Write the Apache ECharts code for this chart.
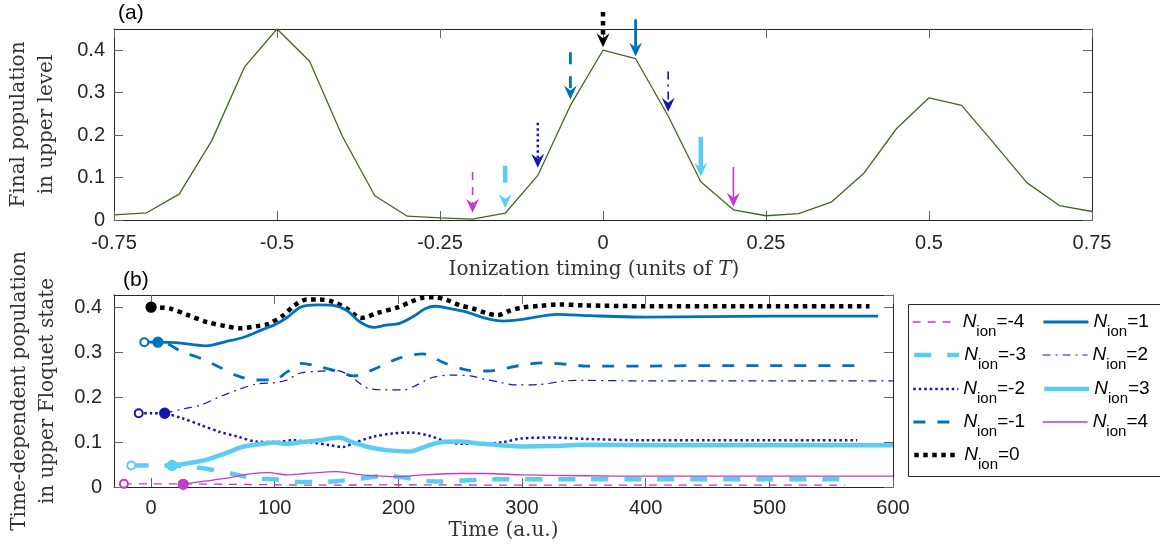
<!DOCTYPE html>
<html>
<head>
<meta charset="utf-8">
<script src="https://cdn.jsdelivr.net/npm/echarts@6/dist/echarts.min.js"></script>
<style>
  html, body { margin: 0; padding: 0; background: #fff; }
  #chart { width: 1160px; height: 550px; }
</style>
</head>
<body>
<div id="chart"></div>
<script>
// (a) final population in upper level vs ionization timing (units of T)
const timing = [-0.75, -0.7, -0.65, -0.6, -0.55, -0.5, -0.45, -0.4, -0.35, -0.3, -0.25,
  -0.2, -0.15, -0.1, -0.05, 0, 0.05, 0.1, 0.15, 0.2, 0.25, 0.3, 0.35, 0.4, 0.45, 0.5,
  0.55, 0.6, 0.65, 0.7, 0.75];
const finalPop = [0.012, 0.017, 0.061, 0.187, 0.36, 0.45, 0.374, 0.198, 0.057, 0.009, 0.005,
  0.002, 0.016, 0.105, 0.27, 0.40, 0.38, 0.245, 0.09, 0.024, 0.01, 0.015, 0.042, 0.11,
  0.215, 0.288, 0.27, 0.18, 0.088, 0.034, 0.02];

// arrows in (a), one per N_ion
const nIon = [-4, -3, -2, -1, 0, 1, 2, 3, 4];
const arrowX = [-0.2, -0.15, -0.1, -0.05, 0, 0.05, 0.1, 0.15, 0.2];
const arrowTail = [0.113, 0.128, 0.229, 0.395, 0.49, 0.473, 0.35, 0.196, 0.125];
const arrowTip = [0.017, 0.028, 0.123, 0.284, 0.407, 0.385, 0.255, 0.102, 0.031];

// (b) time-dependent population in upper Floquet state
const tNeg4 = [-22, 0, 25, 60, 100, 130, 200, 300, 400, 500, 561];
const pNeg4 = [0.007, 0.007, 0.007, 0.006, 0.005, 0.004, 0.005, 0.004, 0.004, 0.004, 0.004];
const tNeg3 = [-16, 0, 17, 35, 50, 70, 85, 100, 115, 130, 150, 170, 190, 210, 230, 250, 270, 300, 350, 400, 450, 500, 559];
const pNeg3 = [0.048, 0.048, 0.048, 0.044, 0.038, 0.027, 0.019, 0.017, 0.012, 0.011, 0.013, 0.019, 0.025, 0.019, 0.012, 0.014, 0.017, 0.017, 0.017, 0.017, 0.017, 0.017, 0.017];
const tNeg2 = [-10, 0, 11, 25, 40, 55, 70, 85, 100, 115, 130, 145, 155, 165, 180, 195, 210, 225, 240, 255, 270, 285, 300, 325, 350, 400, 450, 500, 571];
const pNeg2 = [0.164, 0.164, 0.163, 0.153, 0.138, 0.123, 0.112, 0.101, 0.1, 0.104, 0.099, 0.093, 0.089, 0.099, 0.112, 0.119, 0.121, 0.114, 0.1, 0.096, 0.096, 0.1, 0.108, 0.11, 0.107, 0.104, 0.104, 0.104, 0.104];
const tNeg1 = [-5.5, 0, 10, 25, 40, 55, 70, 85, 100, 110, 122, 135, 150, 164, 182, 200, 220, 237, 256, 272, 298, 316, 336, 352, 400, 450, 500, 577];
const pNeg1 = [0.322, 0.322, 0.321, 0.301, 0.286, 0.267, 0.247, 0.238, 0.239, 0.256, 0.275, 0.268, 0.258, 0.247, 0.264, 0.286, 0.296, 0.276, 0.26, 0.258, 0.27, 0.276, 0.273, 0.269, 0.269, 0.27, 0.27, 0.27];
const tZero = [0, 15, 30, 45, 60, 72, 86, 95, 107, 116, 126, 136, 147, 158, 170, 183, 200, 210, 220, 229, 239, 250, 260, 271, 280, 290, 300, 315, 330, 350, 400, 500, 581];
const pZero = [0.4, 0.397, 0.382, 0.367, 0.358, 0.353, 0.358, 0.363, 0.382, 0.404, 0.417, 0.417, 0.412, 0.397, 0.376, 0.387, 0.4, 0.412, 0.421, 0.422, 0.416, 0.404, 0.397, 0.387, 0.382, 0.392, 0.399, 0.403, 0.406, 0.404, 0.402, 0.402, 0.402];
const tPos1 = [5.5, 20, 35, 45, 60, 75, 90, 100, 110, 121, 135, 147, 158, 169, 180, 190, 201, 212, 222, 230, 241, 254, 271, 285, 301, 328, 355, 400, 500, 588];
const pPos1 = [0.322, 0.321, 0.316, 0.314, 0.323, 0.333, 0.35, 0.361, 0.377, 0.4, 0.405, 0.404, 0.393, 0.367, 0.355, 0.36, 0.364, 0.379, 0.397, 0.402, 0.397, 0.39, 0.375, 0.369, 0.373, 0.384, 0.381, 0.378, 0.38, 0.38];
const tPos2 = [11, 25, 40, 55, 70, 85, 100, 110, 120, 135, 150, 160, 170, 176, 190, 205, 212, 228, 245, 258, 271, 282, 295, 314, 336, 350, 400, 500, 600];
const pPos2 = [0.164, 0.173, 0.182, 0.2, 0.216, 0.229, 0.232, 0.238, 0.253, 0.257, 0.259, 0.249, 0.228, 0.219, 0.216, 0.216, 0.223, 0.244, 0.249, 0.247, 0.239, 0.233, 0.227, 0.228, 0.236, 0.237, 0.236, 0.236, 0.236];
const tPos3 = [17, 30, 45, 60, 75, 90, 100, 110, 122, 136, 152, 163, 174, 190, 209, 222, 233, 249, 265, 282, 300, 325, 350, 400, 500, 600];
const pPos3 = [0.048, 0.053, 0.061, 0.075, 0.09, 0.096, 0.099, 0.096, 0.1, 0.104, 0.11, 0.099, 0.09, 0.082, 0.079, 0.09, 0.099, 0.101, 0.097, 0.093, 0.09, 0.091, 0.094, 0.093, 0.093, 0.093];
const tPos4 = [26, 40, 60, 80, 95, 110, 125, 150, 170, 200, 220, 250, 270, 300, 350, 400, 500, 600];
const pPos4 = [0.006, 0.012, 0.019, 0.029, 0.032, 0.027, 0.03, 0.034, 0.027, 0.023, 0.027, 0.03, 0.03, 0.027, 0.025, 0.024, 0.024, 0.024];

const timesB = [tNeg4, tNeg3, tNeg2, tNeg1, tZero, tPos1, tPos2, tPos3, tPos4];
const popsB = [pNeg4, pNeg3, pNeg2, pNeg1, pZero, pPos1, pPos2, pPos3, pPos4];
const timeTicks = [0, 100, 200, 300, 400, 500, 600];

// line look for each N_ion
const magenta = "#c43acb", light = "#5ccdf2", mid = "#0072bd", dark = "#1414b4";
const looks = {
  "-4": { color: magenta, width: 1.3, type: [8, 7] },
  "-3": { color: light, width: 4.5, type: [17, 16] },
  "-2": { color: dark, width: 2.5, type: [2.5, 3] },
  "-1": { color: mid, width: 2.8, type: [12, 12] },
  "0": { color: "#000", width: 4.5, type: [4.5, 4.5] },
  "1": { color: mid, width: 2.8, type: "solid" },
  "2": { color: dark, width: 1.2, type: [8, 5, 2, 5] },
  "3": { color: light, width: 4.5, type: "solid" },
  "4": { color: magenta, width: 1.3, type: "solid" }
};
const nameOf = (n) => "Nion=" + n;

const axisColor = "#262626";
const sansFont = "Liberation Sans";
const serifFont = "DejaVu Serif";

function frameAxis(extra) {
  return Object.assign({
    axisLine: { show: true, onZero: false, lineStyle: { color: axisColor, width: 1 } },
    axisTick: { show: true, inside: true, length: 9, lineStyle: { color: "#666" } },
    splitLine: { show: false },
    axisLabel: { color: axisColor, fontFamily: sansFont, fontSize: 20 }
  }, extra);
}

const seriesB = nIon.map((n, k) => {
  const look = looks[String(n)];
  const marker = n < 0 ? "emptyCircle" : "circle";
  const data = timesB[k].map((t, i) => i === 0
    ? { value: [t, popsB[k][i]], symbol: marker, symbolSize: n < 0 ? 8 : 10,
        itemStyle: { color: look.color, borderColor: look.color, borderWidth: 1.3 } }
    : [t, popsB[k][i]]);
  return {
    name: nameOf(n),
    type: "line",
    xAxisIndex: 2,
    yAxisIndex: 2,
    data: data,
    smooth: 0.3,
    symbol: "none",
    showSymbol: true,
    z: 3 + (n < 0 ? 0 : 1),
    lineStyle: { color: look.color, width: look.width, type: look.type, cap: "butt" },
    itemStyle: { color: look.color },
    emphasis: { disabled: true },
    animation: false
  };
});

// one legend per entry, two columns like the figure
const legendCols = [912, 1042];
const legendRows = [306, 339, 373, 406, 439];
const legends = nIon.map((n, k) => {
  const col = n <= 0 ? 0 : 1;
  const row = n <= 0 ? k : k - 5;
  return {
    orient: "vertical",
    left: legendCols[col],
    top: legendRows[row],
    itemWidth: 45,
    itemHeight: 40,
    padding: 0,
    selectedMode: false,
    data: [nameOf(n)],
    lineStyle: { width: "inherit", type: "inherit" },
    itemStyle: { opacity: 0 },
    formatter: (name) => "{n|N}{s|ion}{e|=" + name.split("=")[1] + "}",
    textStyle: {
      rich: {
        n: { fontFamily: sansFont, fontSize: 19, fontStyle: "italic", color: "#000" },
        s: { fontFamily: sansFont, fontSize: 15, color: "#000", padding: [20, 0, 0, 0] },
        e: { fontFamily: sansFont, fontSize: 19, color: "#000" }
      }
    }
  };
});

// arrows drawn through the axes of panel (a)
function drawArrow(params, api) {
  const look = looks[String(nIon[api.value(3)])];
  const p0 = api.coord([api.value(0), api.value(1)]);
  const p1 = api.coord([api.value(0), api.value(2)]);
  const L = 14, W = 6.5, notch = 5;
  return {
    type: "group",
    children: [
      {
        type: "line",
        shape: { x1: p0[0], y1: p0[1], x2: p1[0], y2: p1[1] - L + notch },
        style: {
          stroke: look.color,
          lineWidth: Math.max(look.width, 1.6),
          lineDash: Array.isArray(look.type) ? look.type : null,
          lineCap: "butt"
        }
      },
      {
        type: "polygon",
        shape: { points: [[p1[0], p1[1]], [p1[0] - W, p1[1] - L], [p1[0], p1[1] - L + notch], [p1[0] + W, p1[1] - L]] },
        style: { fill: look.color }
      }
    ]
  };
}

const option = {
  backgroundColor: "#fff",
  animation: false,
  grid: [
    { left: 114, top: 29, width: 978, height: 191, outerBoundsMode: "none" },
    { left: 114, top: 295, width: 779, height: 192, outerBoundsMode: "none" }
  ],
  xAxis: [
    frameAxis({
      type: "value", gridIndex: 0, min: -0.75, max: 0.75, interval: 0.25,
      axisLabel: { color: axisColor, fontFamily: sansFont, fontSize: 20, margin: 13 },
      name: "Ionization timing (units of {i|T})", nameLocation: "middle", nameGap: 40,
      nameTextStyle: {
        fontFamily: serifFont, fontSize: 20, color: "#333", padding: [0, 18, 0, 0],
        rich: { i: { fontFamily: serifFont, fontSize: 20, fontStyle: "italic", color: "#333" } }
      }
    }),
    frameAxis({ type: "value", gridIndex: 0, position: "top", min: -0.75, max: 0.75, interval: 0.25, axisLabel: { show: false } }),
    frameAxis({
      type: "value", gridIndex: 1, min: -30, max: 600,
      axisTick: { show: true, inside: true, length: 9, customValues: timeTicks, lineStyle: { color: "#666" } },
      axisLabel: { color: axisColor, fontFamily: sansFont, fontSize: 20, margin: 11, customValues: timeTicks },
      name: "Time (a.u.)", nameLocation: "middle", nameGap: 34,
      nameTextStyle: { fontFamily: serifFont, fontSize: 20, color: "#333" }
    }),
    frameAxis({
      type: "value", gridIndex: 1, position: "top", min: -30, max: 600,
      axisTick: { show: true, inside: true, length: 9, customValues: timeTicks, lineStyle: { color: "#666" } },
      axisLabel: { show: false }
    })
  ],
  yAxis: [
    frameAxis({
      type: "value", gridIndex: 0, min: 0, max: 0.45, interval: 0.1,
      axisLabel: { color: axisColor, fontFamily: sansFont, fontSize: 20, margin: 9, showMaxLabel: false },
      name: "Final population\nin upper level", nameLocation: "middle", nameGap: 53,
      nameTextStyle: { fontFamily: serifFont, fontSize: 20, color: "#333", lineHeight: 28 }
    }),
    frameAxis({ type: "value", gridIndex: 0, position: "right", min: 0, max: 0.45, interval: 0.1, axisLabel: { show: false } }),
    frameAxis({
      type: "value", gridIndex: 1, min: 0, max: 0.427, interval: 0.1,
      axisLabel: { color: axisColor, fontFamily: sansFont, fontSize: 20, margin: 12, showMaxLabel: false },
      name: "Time-dependent population\nin upper Floquet state", nameLocation: "middle", nameGap: 52,
      nameTextStyle: { fontFamily: serifFont, fontSize: 20, color: "#333", lineHeight: 28 }
    }),
    frameAxis({ type: "value", gridIndex: 1, position: "right", min: 0, max: 0.427, interval: 0.1, axisLabel: { show: false } })
  ],
  legend: legends,
  graphic: [
    { type: "text", left: 118, top: 3, style: { text: "(a)", font: "21px Liberation Sans", fill: "#000" } },
    { type: "text", left: 123, top: 270, style: { text: "(b)", font: "21px Liberation Sans", fill: "#000" } },
    { type: "rect", left: 906, top: 302, shape: { width: 252, height: 172 }, style: { fill: "none", stroke: axisColor, lineWidth: 1 }, z: 10 }
  ],
  series: [
    {
      name: "final",
      type: "line",
      xAxisIndex: 0,
      yAxisIndex: 0,
      data: timing.map((x, i) => [x, finalPop[i]]),
      symbol: "none",
      lineStyle: { color: "#41681e", width: 1.3 },
      emphasis: { disabled: true }
    },
    {
      name: "arrows",
      type: "custom",
      coordinateSystem: "cartesian2d",
      xAxisIndex: 0,
      yAxisIndex: 0,
      clip: false,
      silent: true,
      z: 5,
      renderItem: drawArrow,
      data: nIon.map((n, i) => [arrowX[i], arrowTail[i], arrowTip[i], i])
    }
  ].concat(seriesB)
};

const chart = echarts.init(document.getElementById("chart"));
chart.setOption(option);
window.addEventListener("resize", () => chart.resize());
</script>
</body>
</html>
